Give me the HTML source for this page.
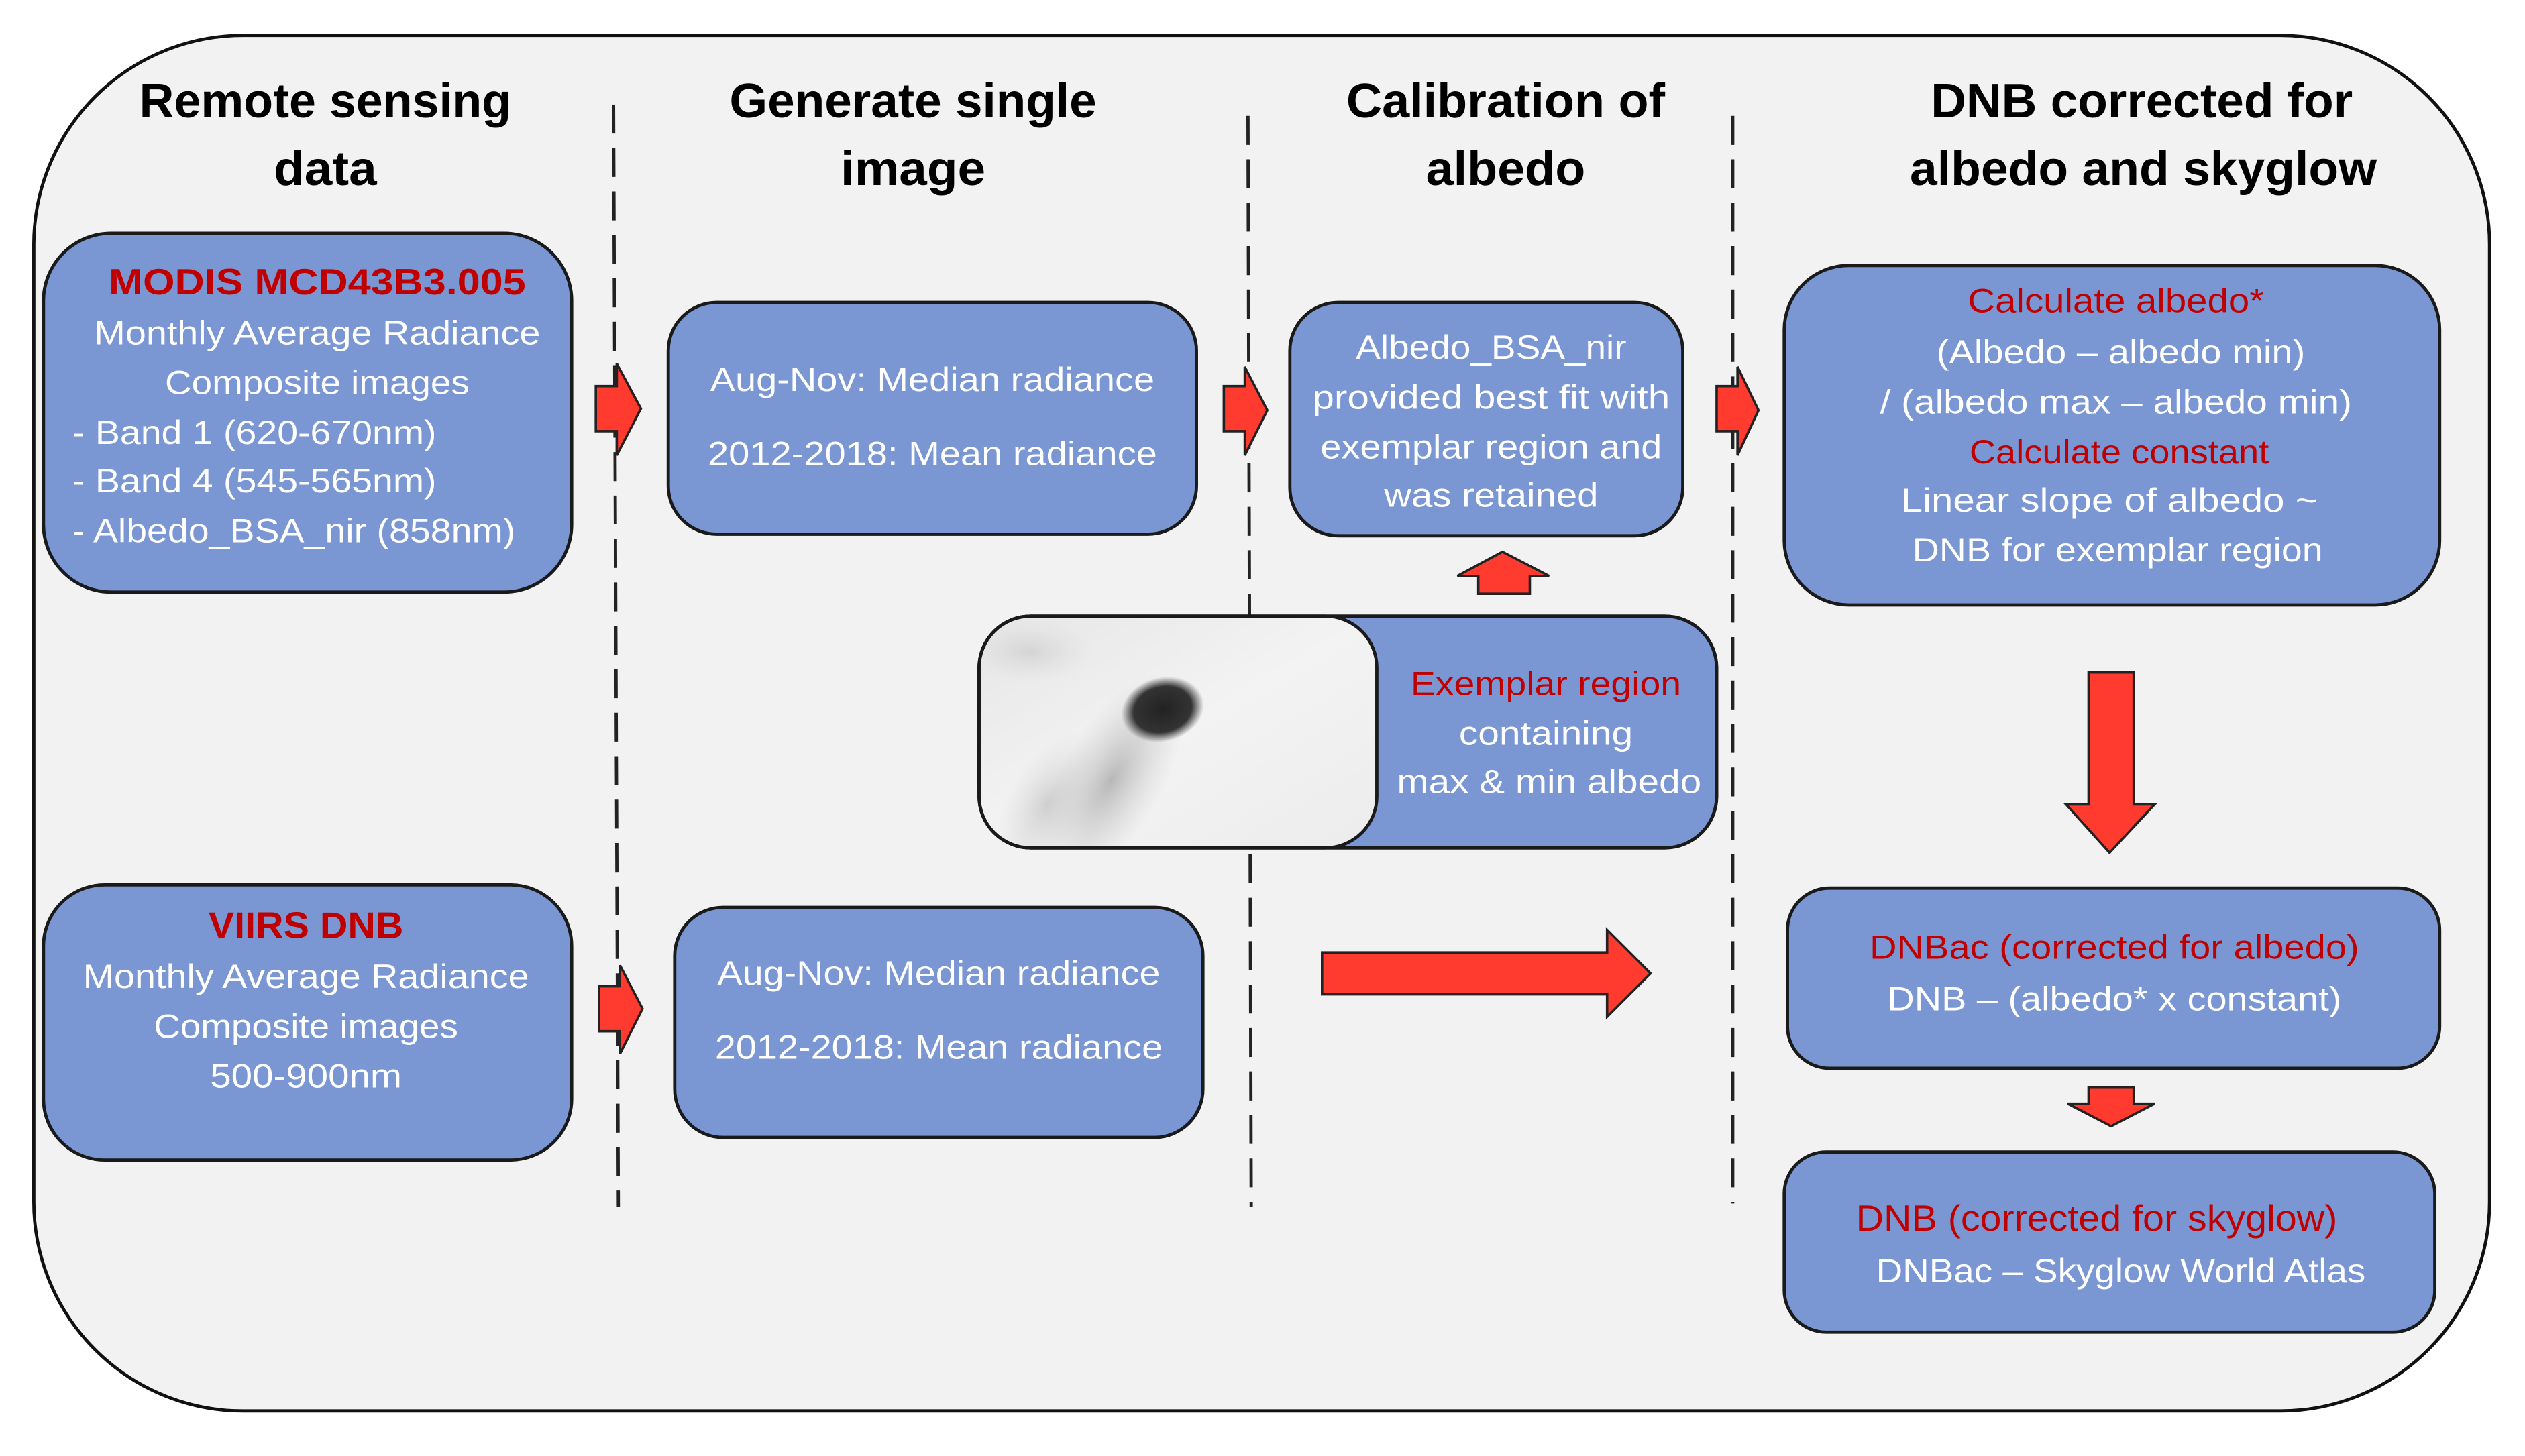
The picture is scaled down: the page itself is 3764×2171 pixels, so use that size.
<!DOCTYPE html>
<html><head><meta charset="utf-8"><style>
html,body{margin:0;padding:0;background:#fff;}
svg{display:block;}
text{font-family:"Liberation Sans Narrow","Liberation Sans",sans-serif;}
.h{font-size:30px;font-weight:bold;fill:#000;}
.w{font-size:21px;fill:#fff;}
.r{font-size:21px;fill:#c00000;}
.rb{font-size:23px;fill:#c00000;font-weight:bold;}
.box{fill:#7b97d3;stroke:#1a1a1a;stroke-width:2;}
.arr{fill:#ff3b30;stroke:#222;stroke-width:1.5;}
.d{stroke:#222;stroke-width:2;stroke-dasharray:18 9;}
</style></head><body>
<svg width="3764" height="2171" viewBox="0 0 1568 905" preserveAspectRatio="none" xmlns="http://www.w3.org/2000/svg">
<defs>
<radialGradient id="blob" cx="0.5" cy="0.5" r="0.5">
<stop offset="0" stop-color="#222"/><stop offset="0.7" stop-color="#333"/><stop offset="1" stop-color="#444" stop-opacity="0"/>
</radialGradient>
<radialGradient id="shade" cx="0.5" cy="0.5" r="0.5">
<stop offset="0" stop-color="#888" stop-opacity="0.55"/><stop offset="1" stop-color="#bbb" stop-opacity="0"/>
</radialGradient>
<linearGradient id="bg" x1="0" y1="0" x2="1" y2="1">
<stop offset="0" stop-color="#e6e6e6"/><stop offset="0.5" stop-color="#f3f3f3"/><stop offset="1" stop-color="#ececec"/>
</linearGradient>
<clipPath id="imgclip"><rect x="608" y="383" width="247" height="144" rx="32"/></clipPath>
</defs>
<rect x="21" y="22" width="1525" height="855" rx="130" fill="#f2f2f2" stroke="#111" stroke-width="2"/>

<g class="h" text-anchor="middle">
<text x="202" y="73" textLength="231" lengthAdjust="spacingAndGlyphs">Remote sensing</text>
<text x="202" y="115" textLength="64" lengthAdjust="spacingAndGlyphs">data</text>
<text x="567" y="73" textLength="228" lengthAdjust="spacingAndGlyphs">Generate single</text>
<text x="567" y="115" textLength="90" lengthAdjust="spacingAndGlyphs">image</text>
<text x="935" y="73" textLength="198" lengthAdjust="spacingAndGlyphs">Calibration of</text>
<text x="935" y="115" textLength="99" lengthAdjust="spacingAndGlyphs">albedo</text>
<text x="1330" y="73" textLength="262" lengthAdjust="spacingAndGlyphs">DNB corrected for</text>
<text x="1331" y="115" textLength="290" lengthAdjust="spacingAndGlyphs">albedo and skyglow</text>
</g>

<line class="d" x1="381" y1="65" x2="384" y2="750"/>
<line class="d" x1="775" y1="72" x2="777" y2="750"/>
<line class="d" x1="1076" y1="72" x2="1076" y2="748"/>

<rect class="box" x="27" y="145" width="328" height="223" rx="42"/>
<text class="rb" x="197" y="183" text-anchor="middle" textLength="259" lengthAdjust="spacingAndGlyphs">MODIS MCD43B3.005</text>
<text class="w" x="197" y="214" text-anchor="middle" textLength="277" lengthAdjust="spacingAndGlyphs">Monthly Average Radiance</text>
<text class="w" x="197" y="245" text-anchor="middle" textLength="189" lengthAdjust="spacingAndGlyphs">Composite images</text>
<text class="w" x="45" y="276" textLength="226" lengthAdjust="spacingAndGlyphs">- Band 1 (620-670nm)</text>
<text class="w" x="45" y="306" textLength="226" lengthAdjust="spacingAndGlyphs">- Band 4 (545-565nm)</text>
<text class="w" x="45" y="337" textLength="275" lengthAdjust="spacingAndGlyphs">- Albedo_BSA_nir (858nm)</text>

<rect class="box" x="415" y="188" width="328" height="144" rx="30"/>
<text class="w" x="579" y="243" text-anchor="middle" textLength="276" lengthAdjust="spacingAndGlyphs">Aug-Nov: Median radiance</text>
<text class="w" x="579" y="289" text-anchor="middle" textLength="279" lengthAdjust="spacingAndGlyphs">2012-2018: Mean radiance</text>

<rect class="box" x="801" y="188" width="244" height="145" rx="30"/>
<text class="w" x="926" y="223" text-anchor="middle" textLength="168" lengthAdjust="spacingAndGlyphs">Albedo_BSA_nir</text>
<text class="w" x="926" y="254" text-anchor="middle" textLength="222" lengthAdjust="spacingAndGlyphs">provided best fit with</text>
<text class="w" x="926" y="285" text-anchor="middle" textLength="212" lengthAdjust="spacingAndGlyphs">exemplar region and</text>
<text class="w" x="926" y="315" text-anchor="middle" textLength="133" lengthAdjust="spacingAndGlyphs">was retained</text>

<rect class="box" x="1108" y="165" width="407" height="211" rx="40"/>
<text class="r" x="1314" y="194" text-anchor="middle" textLength="184" lengthAdjust="spacingAndGlyphs">Calculate albedo*</text>
<text class="w" x="1317" y="226" text-anchor="middle" textLength="229" lengthAdjust="spacingAndGlyphs">(Albedo – albedo min)</text>
<text class="w" x="1314" y="257" text-anchor="middle" textLength="293" lengthAdjust="spacingAndGlyphs">/ (albedo max – albedo min)</text>
<text class="r" x="1316" y="288" text-anchor="middle" textLength="186" lengthAdjust="spacingAndGlyphs">Calculate constant</text>
<text class="w" x="1310" y="318" text-anchor="middle" textLength="259" lengthAdjust="spacingAndGlyphs">Linear slope of albedo ~</text>
<text class="w" x="1315" y="349" text-anchor="middle" textLength="255" lengthAdjust="spacingAndGlyphs">DNB for exemplar region</text>

<polygon class="arr" points="933,343 962,358 950,358 950,369 918,369 918,358 905,358"/>

<rect class="box" x="608" y="383" width="458" height="144" rx="32"/>
<g clip-path="url(#imgclip)">
<rect x="608" y="383" width="247" height="144" fill="url(#bg)"/>
<ellipse cx="690" cy="485" rx="75" ry="32" fill="url(#shade)" transform="rotate(-60 690 485)"/>
<ellipse cx="650" cy="500" rx="50" ry="25" fill="url(#shade)" opacity="0.6" transform="rotate(-60 650 500)"/>
<ellipse cx="640" cy="405" rx="40" ry="20" fill="url(#shade)" opacity="0.4"/>
<ellipse cx="722" cy="441" rx="26" ry="20" fill="url(#blob)" transform="rotate(-15 722 441)"/>
</g>
<rect x="608" y="383" width="247" height="144" rx="32" fill="none" stroke="#1a1a1a" stroke-width="2"/>
<rect x="608" y="383" width="458" height="144" rx="32" fill="none" stroke="#1a1a1a" stroke-width="2"/>
<text class="r" x="960" y="432" text-anchor="middle" textLength="168" lengthAdjust="spacingAndGlyphs">Exemplar region</text>
<text class="w" x="960" y="463" text-anchor="middle" textLength="108" lengthAdjust="spacingAndGlyphs">containing</text>
<text class="w" x="962" y="493" text-anchor="middle" textLength="189" lengthAdjust="spacingAndGlyphs">max &amp; min albedo</text>

<rect class="box" x="27" y="550" width="328" height="171" rx="38"/>
<text class="rb" x="190" y="583" text-anchor="middle" textLength="121" lengthAdjust="spacingAndGlyphs">VIIRS DNB</text>
<text class="w" x="190" y="614" text-anchor="middle" textLength="277" lengthAdjust="spacingAndGlyphs">Monthly Average Radiance</text>
<text class="w" x="190" y="645" text-anchor="middle" textLength="189" lengthAdjust="spacingAndGlyphs">Composite images</text>
<text class="w" x="190" y="676" text-anchor="middle" textLength="119" lengthAdjust="spacingAndGlyphs">500-900nm</text>

<rect class="box" x="419" y="564" width="328" height="143" rx="30"/>
<text class="w" x="583" y="612" text-anchor="middle" textLength="275" lengthAdjust="spacingAndGlyphs">Aug-Nov: Median radiance</text>
<text class="w" x="583" y="658" text-anchor="middle" textLength="278" lengthAdjust="spacingAndGlyphs">2012-2018: Mean radiance</text>

<polygon class="arr" points="370,240 383,240 383,226 398,254 383,283 383,268 370,268"/>
<polygon class="arr" points="760,240 773,240 773,228 787,255 773,283 773,268 760,268"/>
<polygon class="arr" points="1066,240 1079,240 1079,228 1092,255 1079,283 1079,268 1066,268"/>
<polygon class="arr" points="372,613 385,613 385,600 399,627 385,655 385,641 372,641"/>

<polygon class="arr" points="821,592 998,592 998,578 1025,605 998,632 998,618 821,618"/>

<polygon class="arr" points="1297,418 1325,418 1325,500 1338,500 1310,530 1283,500 1297,500"/>

<rect class="box" x="1110" y="552" width="405" height="112" rx="26"/>
<text class="r" x="1313" y="596" text-anchor="middle" textLength="304" lengthAdjust="spacingAndGlyphs">DNBac (corrected for albedo)</text>
<text class="w" x="1313" y="628" text-anchor="middle" textLength="282" lengthAdjust="spacingAndGlyphs">DNB – (albedo* x constant)</text>

<polygon class="arr" points="1297,676 1325,676 1325,686 1338,686 1311,700 1284,686 1297,686"/>

<rect class="box" x="1108" y="716" width="404" height="112" rx="26"/>
<text class="r" x="1302" y="765" text-anchor="middle" style="font-size:23px" textLength="299" lengthAdjust="spacingAndGlyphs">DNB (corrected for skyglow)</text>
<text class="w" x="1317" y="797" text-anchor="middle" textLength="304" lengthAdjust="spacingAndGlyphs">DNBac – Skyglow World Atlas</text>
</svg>
</body></html>
